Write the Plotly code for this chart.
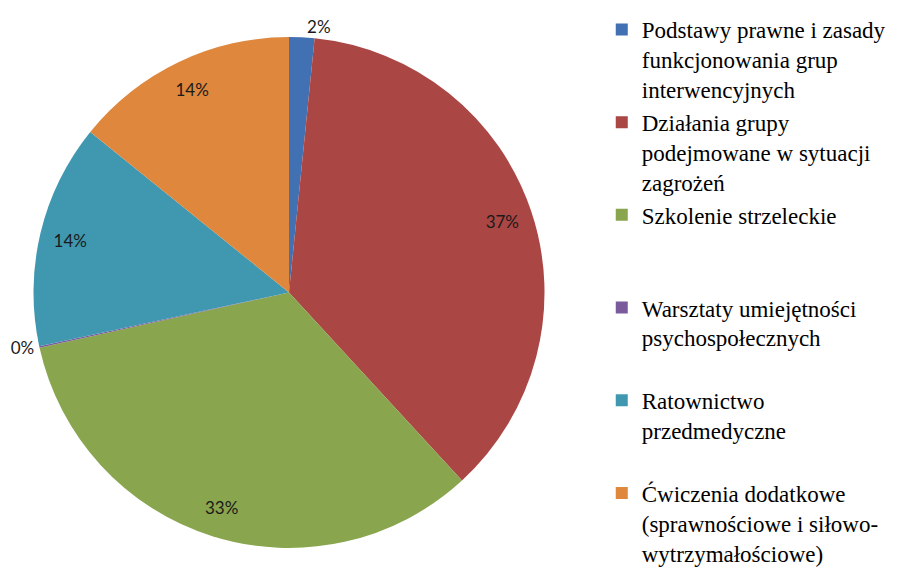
import plotly.graph_objects as go

categories = [
    "Podstawy prawne i zasady<br>funkcjonowania grup<br>interwencyjnych",
    "Działania grupy<br>podejmowane w sytuacji<br>zagrożeń",
    "Szkolenie strzeleckie",
    "Warsztaty umiejętności<br>psychospołecznych",
    "Ratownictwo<br>przedmedyczne",
    "Ćwiczenia dodatkowe<br>(sprawnościowe i siłowo-<br>wytrzymałościowe)",
]
values = [1.6, 36.6, 33.4, 0.1, 14.2, 14.2]
colors = ["#4170B3", "#AA4644", "#89A54E", "#7A5A9B", "#3F98B0", "#DE873D"]
label_positions = ["outside", "inside", "inside", "outside", "inside", "inside"]

# pad legend entries to equal height (3 lines each), like the evenly spaced original
legend_names = []
for c in categories:
    n = c.count("<br>") + 1
    legend_names.append(c + "<br>\u00a0" * (3 - n))

# page body has an 8px margin, so the figure is 8px smaller than the window
W, H = 901, 568
domain = dict(x=[25 / W, 537 / W], y=[28 / H, 539 / H])

fig = go.Figure()
fig.add_trace(go.Pie(
    labels=legend_names,
    values=values,
    sort=False,
    direction="clockwise",
    rotation=0,
    marker=dict(colors=colors, line=dict(width=0)),
    textinfo="none",
    hoverinfo="label+percent",
    domain=domain,
    showlegend=True,
))
# label layer: thin transparent ring so inside labels sit near the rim
fig.add_trace(go.Pie(
    labels=legend_names,
    values=values,
    sort=False,
    direction="clockwise",
    rotation=0,
    hole=0.76,
    marker=dict(colors=["rgba(0,0,0,0)"] * len(values), line=dict(width=0)),
    texttemplate="%{percent:.0%}",
    textposition=label_positions,
    insidetextorientation="horizontal",
    textfont=dict(family="Lato", size=17, color="#1a1a1a"),
    hoverinfo="skip",
    domain=domain,
    showlegend=False,
))

fig.update_layout(
    width=W,
    height=H,
    margin=dict(l=0, r=0, t=0, b=0, autoexpand=False),
    paper_bgcolor="white",
    plot_bgcolor="white",
    showlegend=True,
    legend=dict(
        x=0.659, y=1.0, xanchor="left", yanchor="top",
        valign="top",
        font=dict(family="Liberation Serif", size=23, color="black"),
        bgcolor="rgba(0,0,0,0)",
        traceorder="normal",
    ),
)
try:
    fig.update_layout(legend_maxheight=700)
except Exception:
    pass

fig.write_html("out.html")
